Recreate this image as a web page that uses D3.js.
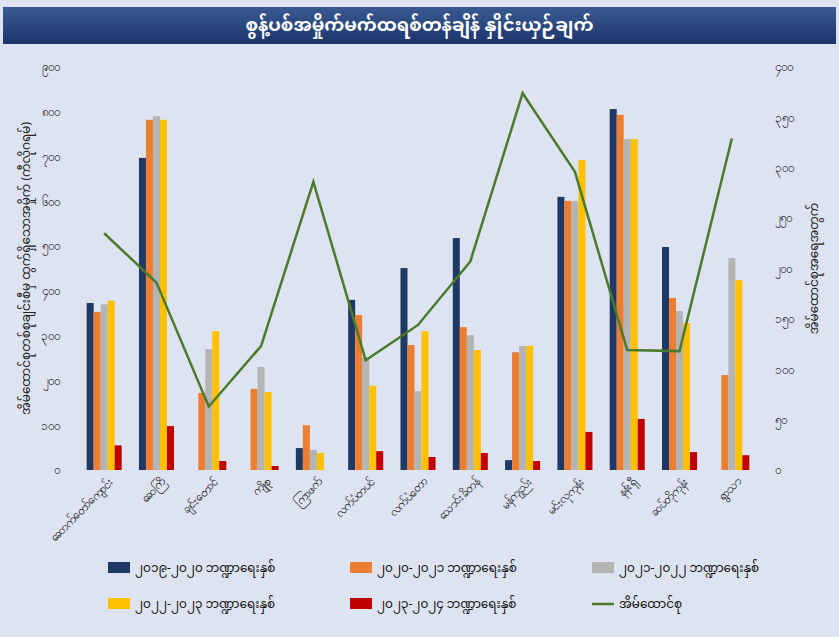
<!DOCTYPE html>
<html>
<head>
<meta charset="utf-8">
<script src="https://cdn.jsdelivr.net/npm/d3@7"></script>
<style>
  body { margin: 0; background: #ffffff; }
  svg { display: block; font-family: "Noto Sans Myanmar", "Padauk", "Myanmar Text", "Noto Sans", sans-serif; }
</style>
</head>
<body>
<script>
// townships
const categories = ["ဆောက်တော်ကျောင်း", "ဆေကြိ", "ချင်းတောင်", "ကျိုစု", "ကြာဖက်", "လက်ပံတပင်", "လက်ပံတော",
  "သောင်းခိတန်", "မန်ကျည်း", "မင်းလှကုန်း", "နန်းရှီ", "ဆပ်တိုကုန်း", "ရွာသာ"]

const seriesNames = ["၂၀၁၉-၂၀၂၀ ဘဏ္ဍာရေးနှစ်", "၂၀၂၀-၂၀၂၁ ဘဏ္ဍာရေးနှစ်", "၂၀၂၁-၂၀၂၂ ဘဏ္ဍာရေးနှစ်",
  "၂၀၂၂-၂၀၂၃ ဘဏ္ဍာရေးနှစ်", "၂၀၂၃-၂၀၂၄ ဘဏ္ဍာရေးနှစ်"]
const lineName = "အိမ်ထောင်စု"

// kg per fiscal year (left axis)
const fy2019 = [373, 697, 0, 0, 49, 380, 451, 518, 22, 610, 806, 498, 0]
const fy2020 = [353, 782, 172, 181, 100, 346, 279, 319, 263, 601, 793, 384, 212]
const fy2021 = [370, 790, 270, 230, 45, 252, 176, 301, 277, 601, 739, 355, 473]
const fy2022 = [378, 782, 310, 174, 38, 188, 310, 268, 277, 692, 739, 328, 424]
const fy2023 = [55, 98, 20, 9, 0, 42, 29, 38, 20, 85, 114, 40, 33]
// households (right axis)
const households = [235, 186, 63, 123, 286, 109, 144, 207, 374, 296, 119, 118, 329]

const leftTicks = [0, 100, 200, 300, 400, 500, 600, 700, 800, 900]
const rightTicks = [0, 50, 100, 150, 200, 250, 300, 350, 400]

const colors = ["#1f3864", "#ed7d31", "#b4b4b4", "#ffc000", "#c00000"]
const lineColor = "#4a7a2c"

const title = "စွန့်ပစ်အမှိုက်မက်ထရစ်တန်ချိန် နှိုင်းယှဉ်ချက်"
const leftTitle = "အိမ်ထောင်စုတစ်စုချင်းစီမှ ထွက်ရှိသောအမှိုက် (ကီလိုဂရမ်)"
const rightTitle = "အိမ်ထောင်စုအရေအတွက်"

const allSeries = [fy2019, fy2020, fy2021, fy2022, fy2023]

// western digits -> myanmar digits
const mmDigits = "၀၁၂၃၄၅၆၇၈၉"
function toMM(n) {
  return String(n).replace(/[0-9]/g, d => mmDigits[+d])
}

const width = 839, height = 637

const svg = d3.select("body").append("svg")
  .attr("width", width)
  .attr("height", height)

// background
svg.append("rect")
  .attr("x", 0).attr("y", 0)
  .attr("width", width).attr("height", height)
  .attr("fill", "#dde3f0")

// title bar
const grad = svg.append("defs").append("linearGradient")
  .attr("id", "titleGrad").attr("x1", 0).attr("y1", 0).attr("x2", 0).attr("y2", 1)
grad.append("stop").attr("offset", "0%").attr("stop-color", "#3a5a92")
grad.append("stop").attr("offset", "100%").attr("stop-color", "#1c356a")

svg.append("rect")
  .attr("x", 3).attr("y", 7)
  .attr("width", width - 6).attr("height", 37)
  .attr("fill", "url(#titleGrad)")

svg.append("text")
  .attr("x", width / 2).attr("y", 31)
  .attr("text-anchor", "middle")
  .attr("fill", "#ffffff")
  .attr("font-size", 18)
  .attr("font-weight", "bold")
  .text(title)

// scales
const plotLeft = 78, plotRight = 758, plotTop = 67, plotBottom = 470

const x0 = d3.scaleBand()
  .domain(categories)
  .range([plotLeft, plotRight])
  .paddingInner(0.33)
  .paddingOuter(0.165)

const x1 = d3.scaleBand()
  .domain(d3.range(allSeries.length))
  .range([0, x0.bandwidth()])

const yLeft = d3.scaleLinear().domain([0, 900]).range([plotBottom, plotTop])
const yRight = d3.scaleLinear().domain([0, 400]).range([plotBottom, plotTop])

// bars
const groups = svg.append("g")
  .selectAll("g")
  .data(categories)
  .join("g")
  .attr("transform", d => `translate(${x0(d)},0)`)

groups.selectAll("rect")
  .data((d, i) => allSeries.map((s, k) => ({ k, v: s[i] })))
  .join("rect")
  .attr("x", d => x1(d.k))
  .attr("y", d => yLeft(d.v))
  .attr("width", x1.bandwidth())
  .attr("height", d => plotBottom - yLeft(d.v))
  .attr("fill", d => colors[d.k])

// household line
const line = d3.line()
  .x((d, i) => x0(categories[i]) + x0.bandwidth() / 2)
  .y(d => yRight(d))

svg.append("path")
  .datum(households)
  .attr("d", line)
  .attr("fill", "none")
  .attr("stroke", lineColor)
  .attr("stroke-width", 2.5)

// axes
const leftAxis = svg.append("g")
  .attr("transform", `translate(${plotLeft - 15},0)`)
  .call(d3.axisLeft(yLeft).tickValues(leftTicks).tickFormat(toMM).tickSize(0))
leftAxis.select(".domain").remove()
leftAxis.selectAll("text")
  .attr("font-size", 12)
  .attr("fill", "#222")
  .style("font-family", "inherit")

const rightAxis = svg.append("g")
  .attr("transform", `translate(${plotRight + 14},0)`)
  .call(d3.axisRight(yRight).tickValues(rightTicks).tickFormat(toMM).tickSize(0))
rightAxis.select(".domain").remove()
rightAxis.selectAll("text")
  .attr("font-size", 12)
  .attr("fill", "#222")
  .style("font-family", "inherit")

const xAxis = svg.append("g")
  .attr("transform", `translate(0,${plotBottom + 8})`)
  .call(d3.axisBottom(x0).tickSize(0))
xAxis.select(".domain").remove()
xAxis.selectAll("text")
  .attr("font-size", 12)
  .attr("fill", "#111")
  .style("font-family", "inherit")
  .attr("text-anchor", "end")
  .attr("dx", "0.3em")
  .attr("dy", "0.6em")
  .attr("transform", "rotate(-45)")

// axis titles
svg.append("text")
  .attr("transform", `translate(30,${(plotTop + plotBottom) / 2}) rotate(-90)`)
  .attr("text-anchor", "middle")
  .attr("font-size", 12)
  .attr("fill", "#222")
  .text(leftTitle)

svg.append("text")
  .attr("transform", `translate(818,${(plotTop + plotBottom) / 2}) rotate(-90)`)
  .attr("text-anchor", "middle")
  .attr("font-size", 12)
  .attr("fill", "#222")
  .text(rightTitle)

// legend
const legendItems = seriesNames.map((n, i) => ({ name: n, color: colors[i], type: "bar" }))
legendItems.push({ name: lineName, color: lineColor, type: "line" })

const legend = svg.append("g")
  .selectAll("g")
  .data(legendItems)
  .join("g")
  .attr("transform", (d, i) => `translate(${108 + (i % 3) * 242},${568 + Math.floor(i / 3) * 36})`)

legend.filter(d => d.type === "bar").append("rect")
  .attr("x", 0).attr("y", -6)
  .attr("width", 22).attr("height", 11)
  .attr("fill", d => d.color)

legend.filter(d => d.type === "line").append("line")
  .attr("x1", 0).attr("x2", 22)
  .attr("y1", 0).attr("y2", 0)
  .attr("stroke", d => d.color)
  .attr("stroke-width", 2.5)

legend.append("text")
  .attr("x", 27).attr("y", 0)
  .attr("dy", "0.35em")
  .attr("font-size", 12)
  .attr("fill", "#111")
  .text(d => d.name)
</script>
</body>
</html>
